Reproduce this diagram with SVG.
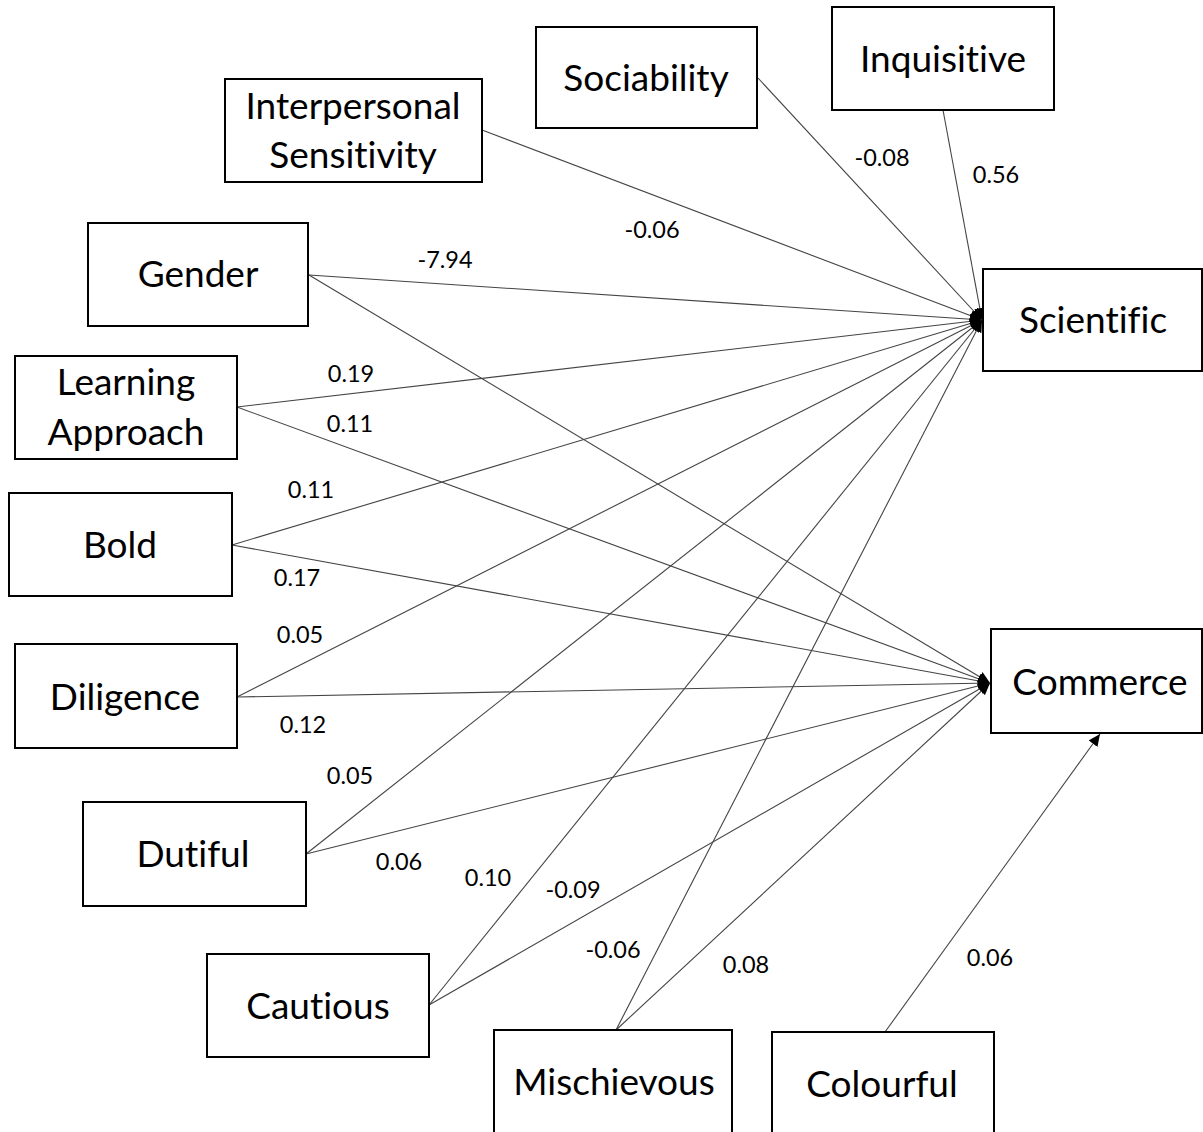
<svg xmlns="http://www.w3.org/2000/svg" width="1203" height="1132" viewBox="0 0 1203 1132">
<style>
.box{fill:#fff;stroke:#000;stroke-width:2}
.lbl{font-family:Lato,"Open Sans","Liberation Sans",sans-serif;font-size:37px;fill:#000;text-anchor:middle;font-variant-ligatures:none}
.num{font-family:Lato,"Open Sans","Liberation Sans",sans-serif;font-size:23.5px;fill:#000;text-anchor:middle}
.edge{stroke:#444;stroke-width:1.1;fill:none;marker-end:url(#arr)}
</style>
<defs>
<marker id="arr" markerUnits="userSpaceOnUse" markerWidth="13" markerHeight="11" refX="12" refY="5.5" orient="auto">
<path d="M0,0 L12,5.5 L0,11 z" fill="#000"/>
</marker>
</defs>
<rect width="1203" height="1132" fill="#fff"/>
<g id="connectors">
<line class="edge" x1="758" y1="78" x2="982" y2="320"/>
<line class="edge" x1="943" y1="110" x2="982" y2="320"/>
<line class="edge" x1="482" y1="130" x2="982" y2="320"/>
<line class="edge" x1="309" y1="275" x2="982" y2="320"/>
<line class="edge" x1="309" y1="275" x2="990" y2="683"/>
<line class="edge" x1="237" y1="407" x2="982" y2="320"/>
<line class="edge" x1="237" y1="407" x2="990" y2="683"/>
<line class="edge" x1="232" y1="545" x2="982" y2="320"/>
<line class="edge" x1="232" y1="545" x2="990" y2="683"/>
<line class="edge" x1="237" y1="697" x2="982" y2="320"/>
<line class="edge" x1="237" y1="697" x2="990" y2="683"/>
<line class="edge" x1="306" y1="854" x2="982" y2="320"/>
<line class="edge" x1="306" y1="854" x2="990" y2="683"/>
<line class="edge" x1="429" y1="1005" x2="982" y2="320"/>
<line class="edge" x1="429" y1="1005" x2="990" y2="683"/>
<line class="edge" x1="616" y1="1030" x2="982" y2="320"/>
<line class="edge" x1="616" y1="1030" x2="990" y2="683"/>
<line class="edge" x1="885" y1="1032" x2="1100" y2="734"/>
</g>
<g id="edge-labels">
<text class="num" x="882" y="166">-0.08</text>
<text class="num" x="996" y="183">0.56</text>
<text class="num" x="652" y="238">-0.06</text>
<text class="num" x="445" y="268">-7.94</text>
<text class="num" x="351" y="382">0.19</text>
<text class="num" x="350" y="432">0.11</text>
<text class="num" x="311" y="498">0.11</text>
<text class="num" x="297" y="586">0.17</text>
<text class="num" x="300" y="643">0.05</text>
<text class="num" x="303" y="733">0.12</text>
<text class="num" x="350" y="784">0.05</text>
<text class="num" x="399" y="870">0.06</text>
<text class="num" x="488" y="886">0.10</text>
<text class="num" x="573" y="898">-0.09</text>
<text class="num" x="613" y="958">-0.06</text>
<text class="num" x="746" y="973">0.08</text>
<text class="num" x="990" y="966">0.06</text>
</g>
<g id="sociability"><rect class="box" x="536" y="27" width="221" height="101"/><text class="lbl" x="646" y="91">Sociability</text></g>
<g id="inquisitive"><rect class="box" x="832" y="7" width="222" height="103"/><text class="lbl" x="943" y="72">Inquisitive</text></g>
<g id="interpersonal-sensitivity"><rect class="box" x="225" y="79" width="257" height="103"/><text class="lbl" x="353" y="119">Interpersonal</text><text class="lbl" x="353" y="168">Sensitivity</text></g>
<g id="gender"><rect class="box" x="88" y="223" width="220" height="103"/><text class="lbl" x="198" y="287">Gender</text></g>
<g id="scientific"><rect class="box" x="983" y="269" width="219" height="102"/><text class="lbl" x="1093" y="333">Scientific</text></g>
<g id="learning-approach"><rect class="box" x="15" y="356" width="222" height="103"/><text class="lbl" x="126" y="395">Learning</text><text class="lbl" x="126" y="445">Approach</text></g>
<g id="bold"><rect class="box" x="9" y="493" width="223" height="103"/><text class="lbl" x="120" y="558">Bold</text></g>
<g id="diligence"><rect class="box" x="15" y="644" width="222" height="104"/><text class="lbl" x="125" y="710">Diligence</text></g>
<g id="commerce"><rect class="box" x="991" y="629" width="211" height="104"/><text class="lbl" x="1100" y="695">Commerce</text></g>
<g id="dutiful"><rect class="box" x="83" y="802" width="223" height="104"/><text class="lbl" x="193" y="867">Dutiful</text></g>
<g id="cautious"><rect class="box" x="207" y="954" width="222" height="103"/><text class="lbl" x="318" y="1019">Cautious</text></g>
<g id="mischievous"><rect class="box" x="494" y="1030" width="238" height="110"/><text class="lbl" x="614" y="1095">Mischievous</text></g>
<g id="colourful"><rect class="box" x="772" y="1032" width="222" height="110"/><text class="lbl" x="882" y="1097">Colourful</text></g>
</svg>
